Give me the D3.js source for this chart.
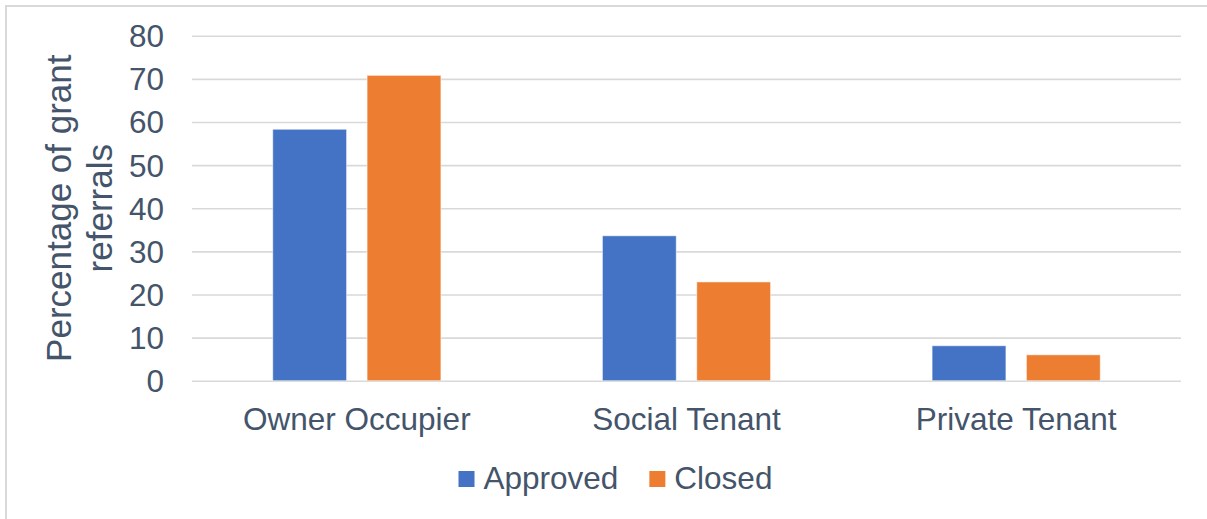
<!DOCTYPE html>
<html>
<head>
<meta charset="utf-8">
<script src="https://cdn.jsdelivr.net/npm/d3@7"></script>
<style>
  body { margin: 0; background: #fff; }
  svg { display: block; font-family: "Liberation Sans", Arial, sans-serif; }
</style>
</head>
<body>
<div id="chart"></div>
<script>
// data
const categories = ["Owner Occupier", "Social Tenant", "Private Tenant"];
const seriesNames = ["Approved", "Closed"];
const approved = [58.3, 33.6, 8.1];
const closed = [70.8, 22.9, 6.0];
const yTicks = [0, 10, 20, 30, 40, 50, 60, 70, 80];
const yTitleLines = ["Percentage of grant", "referrals"];

const w = 1207, h = 519;
const textColor = "#44546A";
const gridColor = "#d9d9d9";
const colors = { Approved: "#4472C4", Closed: "#ED7D31" };
const labelSize = 31.5;

/* plot area */
const plotLeft = 192, plotRight = 1181, plotTop = 35.7, plotBottom = 380.7;

const svg = d3.select("#chart").append("svg")
  .attr("width", w)
  .attr("height", h);

// outer chart frame
svg.append("rect")
  .attr("x", 6).attr("y", 6)
  .attr("width", w + 20).attr("height", h + 20)
  .attr("fill", "#fff")
  .attr("stroke", gridColor)
  .attr("stroke-width", 2);

const x0 = d3.scaleBand()
  .domain(categories)
  .range([plotLeft, plotRight])
  .paddingInner(0.49)
  .paddingOuter(0.245);

const x1 = d3.scaleBand()
  .domain(seriesNames)
  .range([0, x0.bandwidth()])
  .paddingInner(0.2175);

const y = d3.scaleLinear()
  .domain([0, 80])
  .range([plotBottom, plotTop]);

/* y axis + gridlines */
const yAxis = svg.append("g")
  .attr("transform", `translate(${plotLeft},0)`)
  .call(d3.axisLeft(y).tickValues(yTicks).tickSize(-(plotRight - plotLeft)).tickPadding(28));
yAxis.select(".domain").remove();
yAxis.selectAll("line")
  .attr("stroke", gridColor)
  .attr("stroke-width", 1.6);
yAxis.selectAll("text")
  .attr("fill", textColor)
  .attr("font-size", labelSize)
  .attr("dy", "0.35em");

/* bars */
const rows = categories.map((c, i) => ({ cat: c, Approved: approved[i], Closed: closed[i] }));

svg.append("g")
  .selectAll("g")
  .data(rows)
  .join("g")
  .attr("transform", (d) => `translate(${x0(d.cat)},0)`)
  .selectAll("rect")
  .data((d) => seriesNames.map((s) => ({ key: s, value: d[s] })))
  .join("rect")
  .attr("x", (d) => x1(d.key))
  .attr("y", (d) => y(d.value))
  .attr("width", x1.bandwidth())
  .attr("height", (d) => y(0) - y(d.value))
  .attr("fill", (d) => colors[d.key])
  .attr("stroke", "#fff")
  .attr("stroke-opacity", 0.5)
  .attr("stroke-width", 1);

/* x axis labels */
const xAxis = svg.append("g")
  .attr("transform", `translate(0,${plotBottom})`)
  .call(d3.axisBottom(x0).tickSize(0));
xAxis.select(".domain").remove();
xAxis.selectAll("text")
  .attr("fill", textColor)
  .attr("font-size", labelSize)
  .attr("y", 49.5)
  .attr("dy", 0);

/* y axis title */
const yTitle = svg.append("text")
  .attr("transform", `translate(71,${(plotTop + plotBottom) / 2}) rotate(-90)`)
  .attr("text-anchor", "middle")
  .attr("fill", textColor)
  .attr("font-size", 35);
yTitle.selectAll("tspan")
  .data(yTitleLines)
  .join("tspan")
  .attr("x", 0)
  .attr("dy", (d, i) => i === 0 ? 0 : 41)
  .text((d) => d);

/* legend */
const legend = svg.append("g").attr("id", "legend");
let lx = 458.5;
seriesNames.forEach((s) => {
  legend.append("rect")
    .attr("x", lx).attr("y", 471)
    .attr("width", 16).attr("height", 16)
    .attr("fill", colors[s]);
  const t = legend.append("text")
    .attr("x", lx + 25).attr("y", 488.5)
    .attr("fill", textColor)
    .attr("font-size", labelSize)
    .text(s);
  lx += 25 + t.node().getComputedTextLength() + 31;
});
</script>
</body>
</html>
